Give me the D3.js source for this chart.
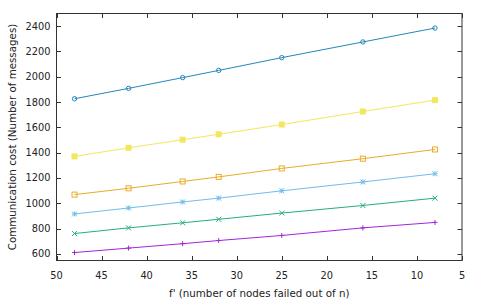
<!DOCTYPE html>
<html>
<head>
<meta charset="utf-8">
<script src="https://cdn.jsdelivr.net/npm/d3@7"></script>
<style>
  body { margin: 0; background: #fff; }
  svg text { font-family: "DejaVu Sans", sans-serif; fill: #222; }
</style>
</head>
<body>
<div id="chart"></div>
<script>
// values
const fValues = [48, 42, 36, 32, 25, 16, 8];
const purpleCost = [610, 645, 680, 705, 745, 805, 848];
const greenCost = [760, 805, 845, 873, 922, 982, 1040];
const skyCost = [915, 962, 1010, 1040, 1098, 1168, 1233];
const orangeCost = [1068, 1118, 1172, 1208, 1275, 1352, 1425];
const yellowCost = [1370, 1438, 1502, 1545, 1622, 1725, 1815];
const blueCost = [1826, 1908, 1993, 2050, 2151, 2275, 2385];
const xTicks = [50, 45, 40, 35, 30, 25, 20, 15, 10, 5];
const yTicks = [600, 800, 1000, 1200, 1400, 1600, 1800, 2000, 2200, 2400];

const series = [
  { values: purpleCost, color: '#9400d3', marker: 'plus' },
  { values: greenCost, color: '#009e73', marker: 'cross' },
  { values: skyCost, color: '#56b4e9', marker: 'star' },
  { values: orangeCost, color: '#e69f00', marker: 'square' },
  { values: yellowCost, color: '#f0e442', marker: 'fsquare' },
  { values: blueCost, color: '#0072b2', marker: 'circle' }
];

const width = 480, height = 302;
const margin = { left: 56.5, right: 18, top: 13.5, bottom: 41.5 };
const plotW = width - margin.left - margin.right;
const plotH = height - margin.top - margin.bottom;

const svg = d3.select('#chart').append('svg')
  .attr('width', width).attr('height', height);

const x = d3.scaleLinear().domain([50, 5]).range([margin.left, margin.left + plotW]);
const y = d3.scaleLinear().domain([547, 2500]).range([margin.top + plotH, margin.top]);

const tickLen = 4.5;
const borderColor = '#333';

// tick marks inward, mirrored on all sides
const ticks = svg.append('g').attr('stroke', borderColor).attr('stroke-width', 1);
xTicks.forEach(t => {
  const px = Math.round(x(t)) + 0.5;
  ticks.append('line').attr('x1', px).attr('x2', px)
    .attr('y1', margin.top + plotH).attr('y2', margin.top + plotH - tickLen);
  ticks.append('line').attr('x1', px).attr('x2', px)
    .attr('y1', margin.top).attr('y2', margin.top + tickLen);
});
yTicks.forEach(t => {
  const py = Math.round(y(t)) + 0.5;
  ticks.append('line').attr('y1', py).attr('y2', py)
    .attr('x1', margin.left).attr('x2', margin.left + tickLen);
  ticks.append('line').attr('y1', py).attr('y2', py)
    .attr('x1', margin.left + plotW).attr('x2', margin.left + plotW - tickLen);
});

// tick labels
svg.append('g').selectAll('text').data(xTicks).enter().append('text')
  .attr('x', d => x(d)).attr('y', margin.top + plotH + 18.5)
  .attr('text-anchor', 'middle').style('font-size', '9.8px')
  .text(d => d);
svg.append('g').selectAll('text').data(yTicks).enter().append('text')
  .attr('x', margin.left - 6).attr('y', d => y(d) + 3.5)
  .attr('text-anchor', 'end').style('font-size', '9.8px')
  .text(d => d);

// axis titles
svg.append('text')
  .attr('x', margin.left + plotW / 2).attr('y', 296.5)
  .attr('text-anchor', 'middle').style('font-size', '10.3px')
  .text("f' (number of nodes failed out of n)");
svg.append('text')
  .attr('transform', `translate(16,${margin.top + plotH / 2}) rotate(-90)`)
  .attr('text-anchor', 'middle').style('font-size', '10.3px')
  .text('Communication cost (Number of messages)');

// lines and points
const line = d3.line().x((d, i) => x(fValues[i])).y(d => y(d));
const s = 2.5;
function drawMarker(g, kind, color) {
  if (kind === 'plus') {
    g.append('path').attr('d', `M${-s},0H${s}M0,${-s}V${s}`).attr('stroke', color).attr('fill', 'none');
  } else if (kind === 'cross') {
    g.append('path').attr('d', `M${-s},${-s}L${s},${s}M${-s},${s}L${s},${-s}`).attr('stroke', color).attr('fill', 'none');
  } else if (kind === 'star') {
    g.append('path').attr('d', `M${-s},0H${s}M0,${-s}V${s}M${-s},${-s}L${s},${s}M${-s},${s}L${s},${-s}`).attr('stroke', color).attr('fill', 'none');
  } else if (kind === 'square') {
    g.append('rect').attr('x', -s).attr('y', -s).attr('width', 2 * s).attr('height', 2 * s).attr('stroke', color).attr('fill', 'none');
  } else if (kind === 'fsquare') {
    g.append('rect').attr('x', -s - 0.5).attr('y', -s - 0.5).attr('width', 2 * s + 1).attr('height', 2 * s + 1).attr('fill', color);
  } else {
    g.append('circle').attr('r', s - 0.3).attr('stroke', color).attr('fill', 'none');
  }
}

series.forEach(sr => {
  const g = svg.append('g').attr('opacity', 0.85);
  g.append('path').datum(sr.values).attr('d', line)
    .attr('fill', 'none').attr('stroke', sr.color).attr('stroke-width', 1);
  sr.values.forEach((v, i) => {
    const m = g.append('g').attr('transform', `translate(${x(fValues[i])},${y(v)})`)
      .attr('stroke-width', 1);
    drawMarker(m, sr.marker, sr.color);
  });
});

// border
svg.append('rect')
  .attr('x', margin.left).attr('y', margin.top)
  .attr('width', plotW).attr('height', plotH)
  .attr('fill', 'none').attr('stroke', borderColor).attr('stroke-width', 1);
</script>
</body>
</html>
